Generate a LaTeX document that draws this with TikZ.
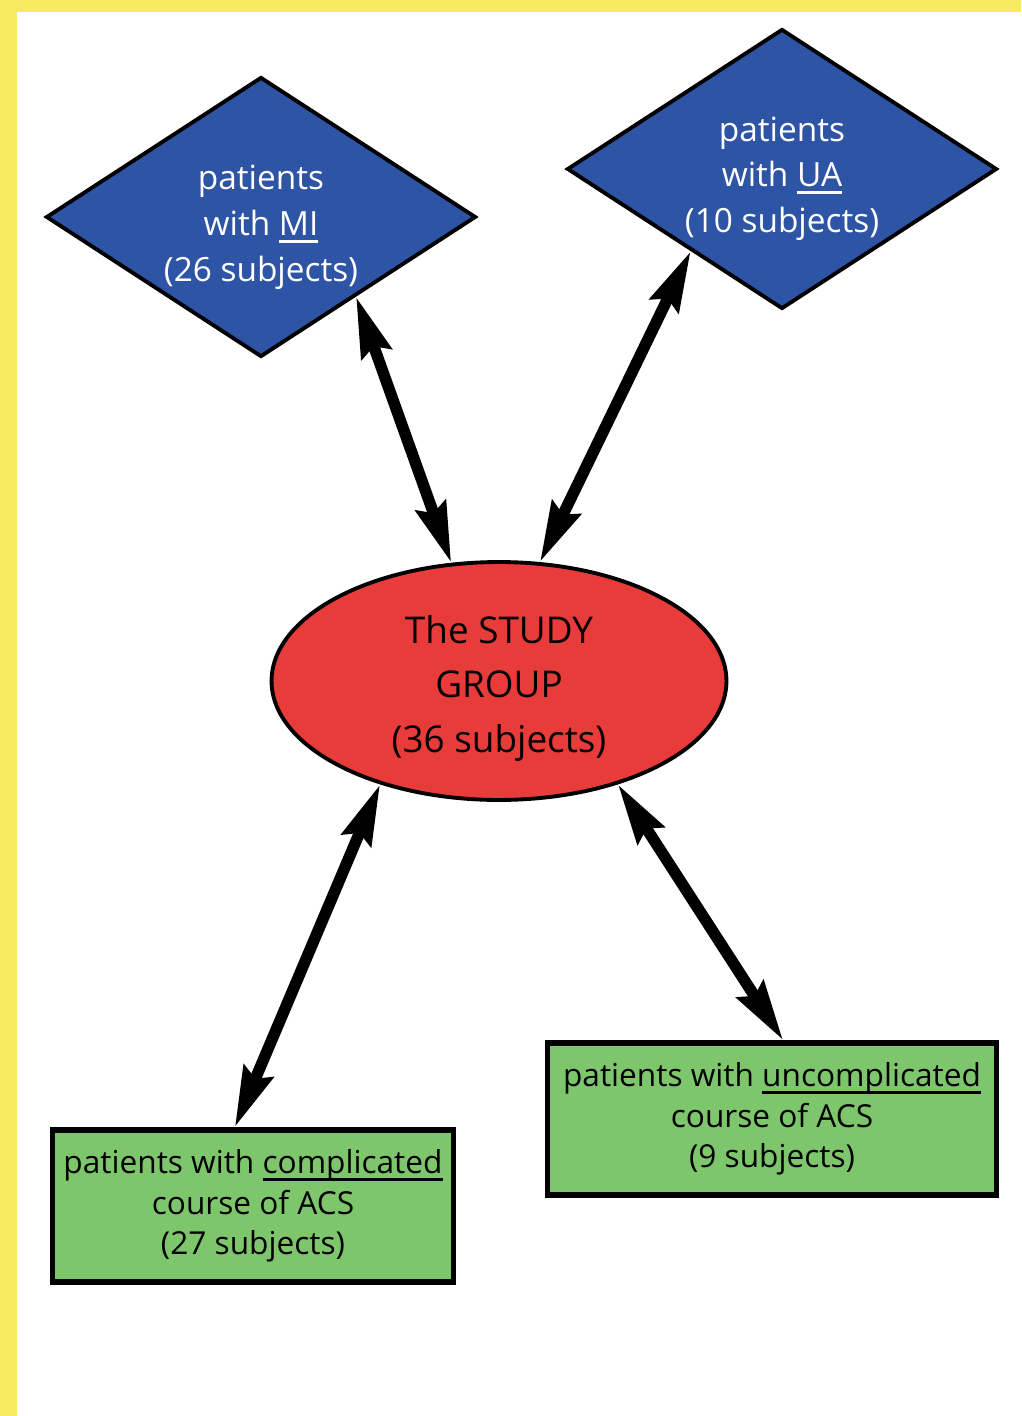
\documentclass[tikz,border=0pt]{standalone}
\usepackage{fontspec}
\setmainfont{Open Sans}
\usetikzlibrary{shapes.geometric, arrows.meta, calc}

\definecolor{frameyellow}{RGB}{248,234,96}
\definecolor{diablue}{RGB}{46,84,166}
\definecolor{grpred}{RGB}{232,60,58}
\definecolor{crsgreen}{RGB}{126,198,108}

% extra room above the first line, pushes the text block down
\newcommand{\toppad}[1]{\rule{0pt}{#1}}
% heavier underline than \underline
\newcommand{\ulthick}[1]{\setbox0\hbox{#1}\rlap{\rule[-4pt]{\wd0}{1.5pt}}\box0}

\begin{document}
\begin{tikzpicture}[
        x=0.02cm, y=-0.02cm,
        every node/.style={align=center},
        dia/.style={
            diamond, aspect=1.54,
            draw=black, line width=2.2pt,
            fill=diablue, text=white,
            inner sep=0pt, minimum width=8.6cm, minimum height=5.6cm,
            font=\fontsize{19}{26}\selectfont
        },
        grp/.style={
            ellipse,
            draw=black, line width=2.2pt,
            fill=grpred,
            inner sep=0pt, minimum width=9.1cm, minimum height=4.76cm,
            font=\fontsize{21}{31}\selectfont
        },
        crs/.style={
            rectangle,
            draw=black, line width=3.2pt,
            fill=crsgreen,
            inner sep=0pt, minimum height=3.04cm,
            font=\fontsize{18}{23}\selectfont
        },
        dbl/.style={{Stealth[length=1.2cm,width=0.62cm,inset=0.15cm]}-{Stealth[length=1.2cm,width=0.62cm,inset=0.15cm]}, line width=6.5pt, black}
    ]
    \useasboundingbox (0,0) rectangle (1021,1416);
    \fill[frameyellow] (0,0) rectangle (1021,1416);
    \fill[white] (17,12) rectangle (1021,1416);

    \node[dia] (mi) at (261,217) {\toppad{0.9cm}patients\\with \ulthick{MI}\\(26 subjects)};
    \node[dia] (ua) at (782,169) {\toppad{0.88cm}patients\\with \ulthick{UA}\\(10 subjects)};
    \node[grp] (study) at (499,681) {\toppad{0.84cm}The STUDY\\GROUP\\(36 subjects)};
    \node[crs, minimum width=8.02cm] (cmp) at (253,1206) {patients with \ulthick{complicated}\\course of ACS\\(27 subjects)};
    \node[crs, minimum width=8.98cm] (unc) at (772,1119) {patients with \ulthick{uncomplicated}\\course of ACS\\(9 subjects)};

    \draw[dbl] (mi.-40) -- (study.112);
    \draw[dbl] (ua.-138) -- (study.71);
    \draw[dbl] (study.-139) -- (cmp.103);
    \draw[dbl] (study.-41.5) -- (unc.82);

\end{tikzpicture}
\end{document}
